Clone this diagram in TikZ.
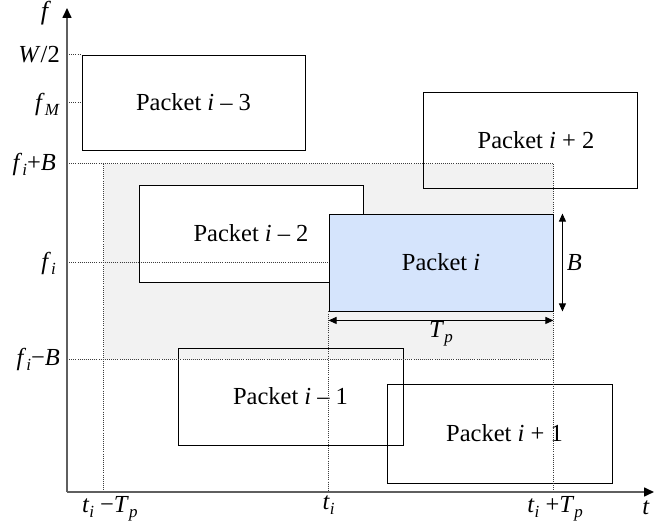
\documentclass[tikz,border=0pt]{standalone}
\usepackage{fontspec}
\setmainfont{Liberation Serif}
\usetikzlibrary{arrows.meta}
\definecolor{zonegray}{RGB}{242,242,242}
\definecolor{pktblue}{RGB}{213,228,252}
\definecolor{axisgray}{RGB}{95,95,95}
\definecolor{guidegray}{RGB}{60,60,60}
\newcommand\mysub[1]{\raisebox{-5pt}{\fontsize{17}{20}\selectfont\textit{#1}}}
\tikzset{
  bigfont/.style={font=\fontsize{24.5}{28}\selectfont},
  pkt/.style={draw=black, line width=0.9pt, inner sep=0pt, bigfont},
  guide/.style={draw=guidegray, line width=1pt, dash pattern=on 1pt off 1.1pt},
  lbl/.style={bigfont, inner sep=1pt},
  axisline/.style={draw=axisgray, line width=1.6pt, -{Triangle[length=10pt,width=9pt,fill=black,color=black]}},
  dimline/.style={draw=black, line width=1pt, {Triangle[length=8pt,width=7pt]}-{Triangle[length=8pt,width=7pt]}},
}
\begin{document}
\begin{tikzpicture}[x=1pt,y=-1pt]
\useasboundingbox (0,0) rectangle (654,529);
\coordinate (O) at (67,492);
\coordinate (ytip) at (67,8);
\coordinate (xtip) at (654,492);

% shaded interference zone
\node[fill=zonegray, inner sep=0pt, minimum width=449pt, minimum height=195pt] (zone) at (328.5,261.5) {};

% packets (transparent ones on the zone)
\node[pkt, fill=white, minimum width=224pt, minimum height=97pt] (pm2) at (251,233.5) {Packet \textit{i} – 2};
\node[pkt, minimum width=214pt, minimum height=96pt] (pp2) at (530,140) {\hspace{12pt}Packet \textit{i} + 2};
\node[pkt, minimum width=225pt, minimum height=97pt] (pm1) at (290.5,396.5) {Packet \textit{i} – 1};
\node[pkt, minimum width=225pt, minimum height=99pt] (pp1) at (499.5,433.5) {\hspace{10pt}Packet \textit{i} + 1};
\node[pkt, fill=white, minimum width=223pt, minimum height=95pt] (pm3) at (193.5,102.5) {Packet \textit{i} – 3};

% guides
\draw[guide] (pm3.north west -| O) -- (pm3.north west);
\draw[guide] (pm3.west -| O) -- (pm3.west);
\draw[guide] (zone.north west -| O) -- (zone.north east);
\draw[guide] (zone.south west -| O) -- (zone.south east);
\draw[guide] (zone.north west) -- (zone.north west |- O);
\draw[guide] (zone.north east) -- (zone.north east |- O);

% packet i
\node[pkt, fill=pktblue, minimum width=224pt, minimum height=97pt] (pi) at (441,262.5) {Packet \textit{i}};
\draw[guide] (pi.west -| O) -- (pi.west);
\draw[guide] (pi.south west) -- (pi.south west |- O);

% dimensions
\draw[dimline] ([xshift=9pt]pi.north east) -- ([xshift=9pt]pi.south east)
  node[midway, right, lbl, xshift=3pt] (lB) {\textit{B}};
\draw[dimline] ([yshift=-9pt]pi.south west) -- ([yshift=-9pt]pi.south east)
  node[midway, below, lbl, yshift=0pt] (lTp) {\textit{T}\mysub{p}};

% axes
\draw[axisline] (O) -- (ytip);
\draw[axisline] (O) -- (xtip);
\node[lbl, font=\fontsize{26}{30}\selectfont] (lf) at (46,13) {\textit{f}};
\node[lbl] (lt) at (646,508) {\textit{t}};

% frequency labels
\node[lbl, anchor=east] (lW) at (61,55) {\textit{W}/2};
\node[lbl, anchor=east] (lfM) at (61,104) {\textit{f}\mysub{M}};
\node[lbl, anchor=east] (lfp) at (57,164) {\textit{f}\mysub{i}+\textit{B}};
\node[lbl, anchor=east] (lfi) at (57,263) {\textit{f}\mysub{i}};
\node[lbl, anchor=east] (lfm) at (61,359) {\textit{f}\mysub{i}−\textit{B}};

% time labels
\node[lbl, anchor=north] (lt1) at ([xshift=6pt,yshift=-3pt]zone.north west |- O) {\textit{t}\mysub{i} −\textit{T}\mysub{p}};
\node[lbl, anchor=north] (lt2) at ([yshift=-3pt]pi.south west |- O) {\textit{t}\mysub{i}};
\node[lbl, anchor=north] (lt3) at ([xshift=2pt,yshift=-3pt]zone.north east |- O) {\textit{t}\mysub{i} +\textit{T}\mysub{p}};
\end{tikzpicture}
\end{document}
